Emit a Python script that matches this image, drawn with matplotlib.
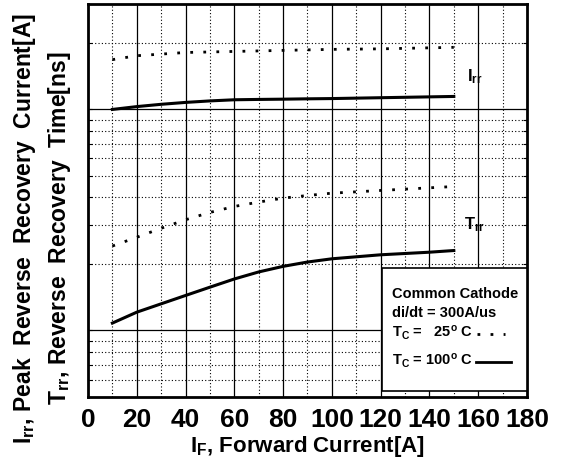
import numpy as np
import matplotlib
matplotlib.use('Agg')
import matplotlib.pyplot as plt
from matplotlib.patches import Rectangle

plt.rcParams['font.family'] = ['Liberation Sans', 'DejaVu Sans']
plt.rcParams['font.weight'] = 'bold'
plt.rcParams['mathtext.fontset'] = 'custom'
plt.rcParams['mathtext.rm'] = 'Liberation Sans:bold'
plt.rcParams['mathtext.bf'] = 'Liberation Sans:bold'
plt.rcParams['mathtext.it'] = 'Liberation Sans:bold'

# Forward current [A]
i_f = [10, 20, 30, 40, 50, 60, 70, 80, 90, 100, 120, 140, 150]

# Irr curves (upper part of the log axis)
irr_25 = [168, 175, 178, 181, 182, 183, 184, 185, 186, 187, 188, 190, 191]
irr_100 = [100, 103, 105.5, 107.6, 109.3, 110.6, 111, 111.3, 111.7, 112, 113, 114, 114.5]

# Trr curves (lower part of the log axis)
trr_25 = [24.1, 26.4, 29, 31.7, 34.2, 36.4, 38.1, 39.7, 40.8, 41.8, 43, 44.2, 44.8]
trr_100 = [10.8, 12.1, 13.2, 14.4, 15.7, 17.1, 18.4, 19.5, 20.4, 21.1, 22, 22.6, 23]

x_ticks = [0, 20, 40, 60, 80, 100, 120, 140, 160, 180]

fig = plt.figure(figsize=(5.63, 4.69), dpi=100)
ax = fig.add_axes([0.1563, 0.1535, 0.7797, 0.838])

dots = (0, (1, 3.7))
ax.plot(i_f, irr_25, color='black', lw=2.0, linestyle=dots)
ax.plot(i_f, irr_100, color='black', lw=2.2)
ax.plot(i_f, trr_25, color='black', lw=2.0, linestyle=dots)
ax.plot(i_f, trr_100, color='black', lw=2.2)

ax.set_yscale('log')
ax.set_ylim(5, 300)
ax.set_xlim(0, 180)

# grid lines
for xv in range(20, 180, 20):
    ax.axvline(xv, color='black', lw=0.9, zorder=0)
for xv in range(10, 180, 20):
    ax.axvline(xv, color='black', lw=0.8, linestyle=(0, (1, 2)), zorder=0)
for yv in [10, 100]:
    ax.axhline(yv, color='black', lw=0.9, zorder=0)
for yv in [6, 7, 8, 9, 20, 30, 40, 50, 60, 70, 80, 90, 200]:
    ax.axhline(yv, color='black', lw=0.8, linestyle=(0, (1, 2)), zorder=0)

ax.set_xticks(x_ticks)
ax.set_xticklabels([str(t) for t in x_ticks], fontsize=19, fontweight='bold')
ax.tick_params(axis='x', length=0, pad=8)
ax.yaxis.set_major_formatter(plt.NullFormatter())
ax.yaxis.set_minor_formatter(plt.NullFormatter())
ax.tick_params(axis='y', which='both', direction='in', length=3, width=0.8,
               left=True, right=True)
for s in ax.spines.values():
    s.set_linewidth(2.0)

ax.set_xlabel(r'$\mathregular{I_F}$, Forward Current[A]', fontsize=16,
              fontweight='bold', labelpad=1)

fig.text(0.044, 0.513, r'$\mathregular{I_{rr}}$, Peak  Reverse  Recovery  Current[A]',
         rotation=90, ha='center', va='center', fontsize=16.5, fontweight='bold')
fig.text(0.105, 0.513, r'$\mathregular{T_{rr}}$, Reverse  Recovery  Time[ns]',
         rotation=90, ha='center', va='center', fontsize=16.5, fontweight='bold')

ax.text(155.5, 140, r'$\mathregular{I_{rr}}$', fontsize=12, ha='left', va='center')
ax.text(154, 30, r'$\mathregular{T_{rr}}$', fontsize=12, ha='left', va='center')

# legend box
ax.add_patch(Rectangle((0.67, 0.015), 0.33, 0.313, transform=ax.transAxes,
                       facecolor='white', edgecolor='black', lw=1.2, zorder=3))
ax.text(0.692, 0.262, 'Common Cathode', transform=ax.transAxes, fontsize=10.5,
        fontweight='bold', va='center', zorder=4)
ax.text(0.692, 0.215, 'di/dt = 300A/us', transform=ax.transAxes, fontsize=10.5,
        fontweight='bold', va='center', zorder=4)
ax.text(0.692, 0.163, r'$\mathregular{T_C}$ =   25$\mathregular{^o}$ C', transform=ax.transAxes,
        fontsize=10.5, fontweight='bold', va='center', zorder=4)
ax.text(0.692, 0.092, r'$\mathregular{T_C}$ = 100$\mathregular{^o}$ C', transform=ax.transAxes,
        fontsize=10.5, fontweight='bold', va='center', zorder=4)
ax.plot([0.886, 0.95], [0.16, 0.16], transform=ax.transAxes, color='black',
        lw=2.0, linestyle=dots, zorder=4)
ax.plot([0.884, 0.964], [0.09, 0.09], transform=ax.transAxes, color='black',
        lw=2.0, zorder=4)

fig.savefig('out.png', dpi=100)
